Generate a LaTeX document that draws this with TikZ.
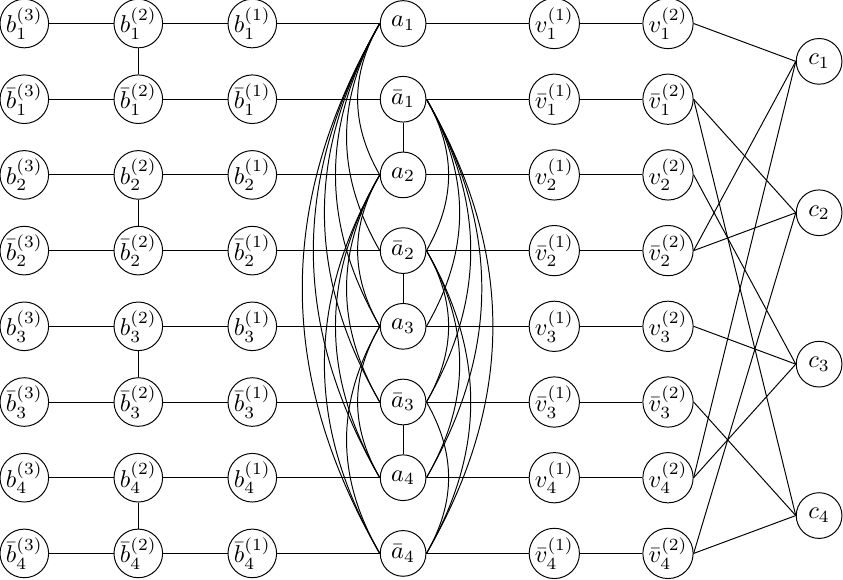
\documentclass[tikz,border=0pt]{standalone}
\begin{document}
\begin{tikzpicture}[x=0.41pt,y=-0.41pt,
  vtx/.style={circle,draw,inner sep=0pt,minimum size=18.74pt,fill=white},
  link/.style={draw,line width=0.4pt}]
\useasboundingbox (0,0) rectangle (843,579);
\def\XA{24.3}\def\XB{138.3}\def\XC{252.3}\def\XD{403.1}\def\XE{554.3}\def\XF{668}\def\XG{819.1}
\foreach \i in {1,...,4}{
  \pgfmathsetmacro\yu{23.5+151.4*(\i-1)}
  \pgfmathsetmacro\yv{\yu+75.7}
  \pgfmathsetmacro\yc{\yu+37.85}
  \pgfmathtruncatemacro\ru{2*\i-1}
  \pgfmathtruncatemacro\rv{2*\i}
  \node[vtx] (p\ru) at (\XA,\yu) {$b_{\i}^{(3)}$};
  \node[vtx] (p\rv) at (\XA,\yv) {$\bar{b}_{\i}^{(3)}$};
  \node[vtx] (q\ru) at (\XB,\yu) {$b_{\i}^{(2)}$};
  \node[vtx] (q\rv) at (\XB,\yv) {$\bar{b}_{\i}^{(2)}$};
  \node[vtx] (s\ru) at (\XC,\yu) {$b_{\i}^{(1)}$};
  \node[vtx] (s\rv) at (\XC,\yv) {$\bar{b}_{\i}^{(1)}$};
  \node[vtx] (a\ru) at (\XD,\yu) {$a_{\i}$};
  \node[vtx] (a\rv) at (\XD,\yv) {$\bar{a}_{\i}$};
  \node[vtx] (u\ru) at (\XE,\yu) {$v_{\i}^{(1)}$};
  \node[vtx] (u\rv) at (\XE,\yv) {$\bar{v}_{\i}^{(1)}$};
  \node[vtx] (w\ru) at (\XF,\yu) {$v_{\i}^{(2)}$};
  \node[vtx] (w\rv) at (\XF,\yv) {$\bar{v}_{\i}^{(2)}$};
  \node[vtx] (c\i) at (\XG,\yc) {$c_{\i}$};
}
\foreach \r in {1,...,8}{
  \draw[link] (p\r) -- (q\r) -- (s\r) -- (a\r) -- (u\r) -- (w\r);
}
\foreach \ea/\eb in {1/2,3/4,5/6,7/8} \draw[link] (q\ea) -- (q\eb);
\foreach \ea/\eb in {2/3,4/5,6/7} \draw[link] (a\ea) -- (a\eb);
\foreach \ea/\eb in {1/3,1/4,1/5,1/6,1/7,1/8,3/5,3/6,3/7,3/8,5/7,5/8}
  \draw[link] (a\ea.west) to[bend right] (a\eb.west);
\foreach \ea/\eb in {2/4,2/5,2/6,2/7,2/8,4/6,4/7,4/8,6/8}
  \draw[link] (a\ea.east) to[bend left] (a\eb.east);
\foreach \ea/\eb in {1/1,2/2,2/4,3/3,4/1,4/2,5/3,6/4,7/1,7/3,8/2,8/4}
  \draw[link] (w\ea.east) -- (c\eb.west);
\end{tikzpicture}
\end{document}
